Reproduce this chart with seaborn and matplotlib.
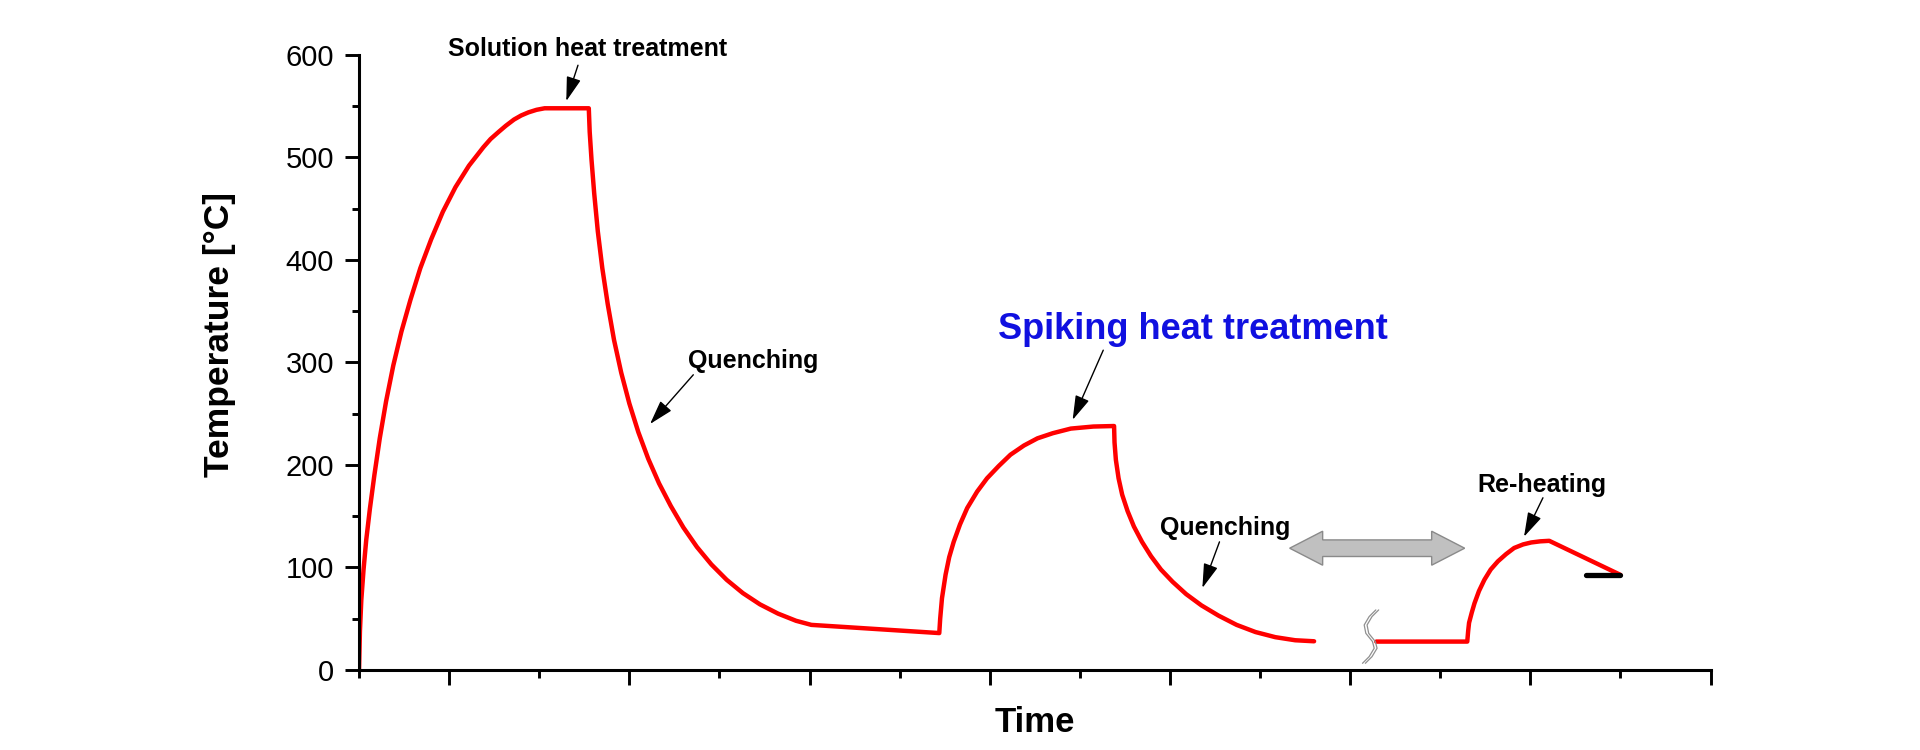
import numpy as np
import pandas as pd
import matplotlib
matplotlib.use("Agg")
import matplotlib.pyplot as plt
from matplotlib.patches import Polygon
from matplotlib.transforms import ScaledTranslation
import seaborn as sns

# time in tick units (axis 0..15), temperature in degC
sht_time = [0, 0.01, 0.025, 0.05, 0.08, 0.12, 0.17, 0.23, 0.30, 0.38, 0.47, 0.57,
            0.68, 0.80, 0.93, 1.07, 1.22, 1.38, 1.46, 1.55, 1.63, 1.72, 1.80, 1.88,
            1.97, 2.06, 2.55]
sht_temp = [0, 38, 68, 98, 127, 157, 190, 226, 262, 297, 330, 361,
            392, 420, 447, 471, 492, 510, 518, 525, 531, 537, 541, 544,
            546.5, 548, 548]

q1_time = [2.56, 2.58, 2.61, 2.65, 2.70, 2.76, 2.83, 2.91, 3.00, 3.10, 3.21, 3.33,
           3.46, 3.60, 3.75, 3.91, 4.08, 4.26, 4.45, 4.65, 4.85, 5.02, 6.44]
q1_temp = [525, 498, 465, 428, 392, 357, 322, 290, 260, 232, 206, 182,
           160, 139, 120, 103, 88, 75, 64, 55, 48, 44, 36]

spike_time = [6.45, 6.47, 6.51, 6.55, 6.6, 6.67, 6.75, 6.86, 6.97, 7.1, 7.23, 7.38,
              7.53, 7.7, 7.9, 8.15, 8.38]
spike_temp = [50, 70, 93, 110, 125, 142, 158, 174, 187, 199, 210, 219,
              226, 231, 235.5, 237.5, 238]

q2_time = [8.385, 8.40, 8.43, 8.47, 8.53, 8.60, 8.69, 8.79, 8.90, 9.03, 9.18, 9.35,
           9.54, 9.74, 9.95, 10.17, 10.39, 10.6]
q2_temp = [222, 205, 187, 171, 155, 140, 125, 111, 98, 86, 74, 63,
           53, 44, 37, 32, 29, 28]

reheat_time = [11.29, 12.30, 12.31, 12.32, 12.35, 12.38, 12.43, 12.49, 12.56, 12.64,
               12.73, 12.82, 12.92, 13.01, 13.11, 13.21, 14.0]
reheat_temp = [27.7, 27.7, 38, 46, 56, 65, 77, 88, 98, 106,
               113, 119, 122.5, 124.4, 125.5, 126, 92.8]

bar_time = [13.62, 14.0]
bar_temp = [92.8, 92.8]

# break mark (two wavy strokes)
brk_time = [11.285, 11.211, 11.156, 11.174, 11.248, 11.267, 11.211, 11.137]
brk_temp = [58.6, 52.1, 43.9, 35.8, 27.7, 21.2, 13.0, 6.5]

first = pd.DataFrame({
    "time": sht_time + q1_time + spike_time + q2_time,
    "temp": sht_temp + q1_temp + spike_temp + q2_temp,
})
first["seg"] = "main"
second = pd.DataFrame({"time": reheat_time, "temp": reheat_temp})
second["seg"] = "reheat"
df = pd.concat([first, second], ignore_index=True)

sns.set_style("ticks")
plt.rcParams["font.family"] = ["Liberation Sans", "DejaVu Sans"]
plt.rcParams.update({"text.color": "black", "axes.labelcolor": "black",
                     "xtick.color": "black", "ytick.color": "black",
                     "axes.edgecolor": "black"})

fig = plt.figure(figsize=(19.2, 7.5), dpi=100)
ax = fig.add_axes([0.187, 0.1067, 0.7039, 0.82])

sns.lineplot(data=df, x="time", y="temp", units="seg", estimator=None, sort=False,
             color="#ff0000", lw=3.2, ax=ax, legend=False)
sns.lineplot(x=bar_time, y=bar_temp, color="black", lw=3.8, ax=ax, legend=False)

for dx in (0, 0.032):
    ax.plot(np.array(brk_time) + dx, brk_temp, color="#909090", lw=0.9)

ax.set_xlim(0, 15)
ax.set_ylim(0, 600)
ax.set_xticks(np.arange(1, 16, 2))
ax.set_xticks(np.arange(0, 15, 2), minor=True)
ax.set_yticks(np.arange(0, 601, 100))
ax.set_yticks(np.arange(50, 600, 100), minor=True)
ax.tick_params(axis="x", which="major", length=10.8, width=2.1, labelbottom=False)
ax.tick_params(axis="x", which="minor", length=5.5, width=2.1)
ax.tick_params(axis="y", which="major", length=10, width=2.1, labelsize=21, pad=8)
ax.tick_params(axis="y", which="minor", length=5, width=2.1)
sns.despine(ax=ax)
for s in ("left", "bottom"):
    ax.spines[s].set_linewidth(2.2)

ax.set_xlabel("Time", fontsize=25, fontweight="bold", va="center")
ax.xaxis.set_label_coords(0.5, -0.085)
ax.set_ylabel("Temperature [°C]", fontsize=25.5, fontweight="bold", va="center")
ax.yaxis.set_label_coords(-0.103, 0.546)

arrow = dict(arrowstyle="-|>,head_length=0.5,head_width=0.15", color="black",
             lw=1.0, mutation_scale=30, shrinkA=0, shrinkB=0)

labels = [
    ("Solution heat treatment", 2.54, 606, (2.43, 590), (2.30, 555)),
    ("Quenching", 4.38, 301, (3.71, 288), (3.23, 240)),
    ("Quenching", 9.61, 139, (9.55, 125), (9.36, 80)),
    ("Re-heating", 13.13, 180, (13.14, 168), (12.93, 130)),
]
for txt, tx, ty, tail, tip in labels:
    ax.text(tx, ty, txt, fontsize=18, fontweight="bold", ha="center", va="center")
    ax.annotate("", xy=tip, xytext=tail, arrowprops=arrow)

ax.text(9.26, 332, "Spiking heat treatment", fontsize=26, fontweight="bold",
        color="#1010e0", ha="center", va="center")
ax.annotate("", xy=(7.92, 244), xytext=(8.26, 312), arrowprops=arrow)

# grey double arrow, shape given in inches around its centre
half, shaft, head_h, head_l = 0.875, 0.083, 0.17, 0.33
verts = [(-half, 0), (-half + head_l, head_h), (-half + head_l, shaft),
         (half - head_l, shaft), (half - head_l, head_h), (half, 0),
         (half - head_l, -head_h), (half - head_l, -shaft), (-half + head_l, -shaft),
         (-half + head_l, -head_h)]
tr = fig.dpi_scale_trans + ScaledTranslation(11.30, 118.8, ax.transData)
ax.add_patch(Polygon(verts, closed=True, transform=tr, facecolor="#c0c0c0",
                     edgecolor="#8a8a8a", lw=1.0, clip_on=False))

fig.savefig("out.png", dpi=100)
